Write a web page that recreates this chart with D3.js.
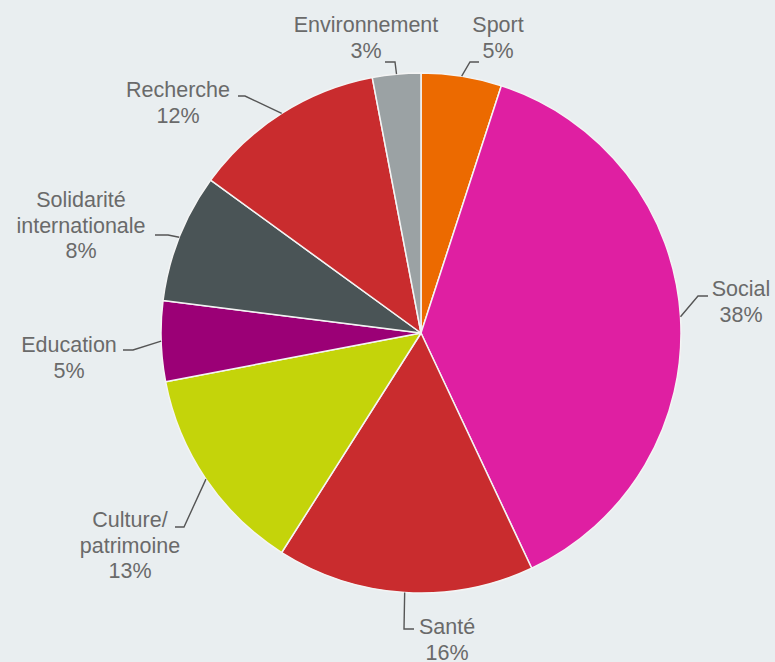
<!DOCTYPE html>
<html><head><meta charset="utf-8">
<script src="https://cdn.jsdelivr.net/npm/d3@7"></script>
<style>html,body{margin:0;padding:0;background:#e9eef0;}svg{display:block;}</style>
</head><body><svg id="c" width="775" height="662"></svg>
<script>
const categories = ["Sport","Social","Santé","Culture/patrimoine","Education","Solidarité internationale","Recherche","Environnement"];
const values = [5,38,16,13,5,8,12,3];
const labelLines = [["Sport"],["Social"],["Santé"],["Culture/","patrimoine"],["Education"],["Solidarité","internationale"],["Recherche"],["Environnement"]];
const colors = ["#ec6a00","#df1fa2","#c92c2e","#c4d40a","#9b0076","#4a5456","#c92c2e","#9ba2a4"];

// layout: text center x, first baseline y, elbow point, horizontal end x
const layout = [
  {tx:498, ty:32,  ex:470, ey:62,  hx:479},
  {tx:741, ty:296, ex:698, ey:296, hx:708},
  {tx:447, ty:634, ex:404, ey:629, hx:414},
  {tx:130, ty:527, ex:184, ey:527, hx:175},
  {tx:69,  ty:352, ex:133, ey:350, hx:123},
  {tx:81,  ty:207, ex:168, ey:235, hx:155},
  {tx:178, ty:97,  ex:245, ey:96,  hx:238},
  {tx:366, ty:32,  ex:395, ey:62,  hx:385}
];

const svg = d3.select("#c");
const cx = 421, cy = 333, r = 260;
const data = categories.map((c,i)=>({cat:c, value:values[i], i}));
const pie = d3.pie().value(d=>d.value).sort(null);
const arcs = pie(data);
const arc = d3.arc().innerRadius(0).outerRadius(r);
const g = svg.append("g").attr("transform",`translate(${cx},${cy})`);
g.selectAll("path").data(arcs).join("path")
  .attr("d",arc).attr("fill",d=>colors[d.data.i])
  .attr("stroke","#f4f4f4").attr("stroke-width",1.5).attr("stroke-linejoin","round");

const lineH = 25.5;
arcs.forEach((a,i)=>{
  const L = layout[i];
  const mid = (a.startAngle+a.endAngle)/2;
  const px = cx + r*Math.sin(mid), py = cy - r*Math.cos(mid);
  svg.append("polyline")
    .attr("points",`${px},${py} ${L.ex},${L.ey} ${L.hx},${L.ey}`)
    .attr("fill","none").attr("stroke","#555").attr("stroke-width",1.4);
  const lines = labelLines[i].concat([values[i]+"%"]);
  const t = svg.append("text").attr("text-anchor","middle")
    .attr("font-family","Liberation Sans, Arial, sans-serif").attr("font-size",21.5)
    .attr("fill","#6a6a6a");
  lines.forEach((s,k)=>{
    t.append("tspan").attr("x",L.tx).attr("y",L.ty+k*lineH).text(s);
  });
});
</script></body></html>
